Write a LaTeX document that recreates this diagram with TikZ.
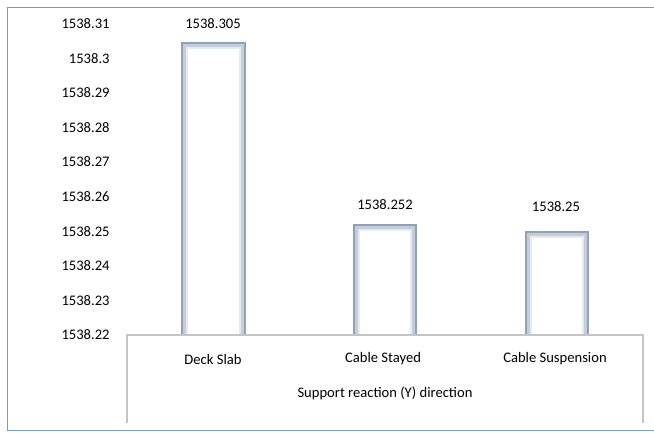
\documentclass[tikz,border=0pt]{standalone}
\usepackage{fontspec}
\setmainfont{Carlito}
\definecolor{frameblue}{RGB}{118,150,212}
\definecolor{axisgray}{RGB}{196,196,196}
\definecolor{baredge}{RGB}{146,162,182}
\definecolor{barglow}{RGB}{196,206,218}
\definecolor{barhaze}{RGB}{230,235,241}

\begin{document}
\begin{tikzpicture}[x=1pt, y=-1pt, thick,
    lbl/.style = {font=\fontsize{14.6}{16}\selectfont, inner sep=0pt},
    bar/.style = {draw=baredge, line width=2.6pt, fill=white},
    glow/.style = {draw=barglow, line width=2.4pt},
    haze/.style = {draw=barhaze, line width=2.4pt}]
        \useasboundingbox (0,0) rectangle (654,432);
        % outer frame, open on the right
        \draw[frameblue, line width=1.6pt] (664,7.5) -- (7.5,7.5) -- (7.5,430.5) -- (664,430.5);
        % value axis labels
        \foreach \v [count=\i from 0] in {1538.22,1538.23,1538.24,1538.25,1538.26,1538.27,1538.28,1538.29,1538.3,1538.31}
            \node[lbl, anchor=east] (tick\i) at (110,335-34.6*\i) {\v};
        % bars, each with a soft inner shade
        \foreach \xl/\xr/\yt in {182/245/43, 354/416/225, 526/588/232} {
            \draw[bar] (\xl,\yt) rectangle (\xr,335);
            \draw[glow] (\xl+2.5,\yt+2.5) rectangle (\xr-2.5,335);
            \draw[haze] (\xl+4.8,\yt+4.8) rectangle (\xr-4.8,335);
        }
        % category box
        \draw[axisgray, line width=1.6pt] (127,423) -- (127,335) -- (643,335) -- (643,423);
        % value labels
        \node[lbl] (v1) at (213,24) {1538.305};
        \node[lbl] (v2) at (385,205) {1538.252};
        \node[lbl] (v3) at (556,207) {1538.25};
        % categories
        \node[lbl] (c1) at (213,359) {Deck Slab};
        \node[lbl] (c2) at (383,359) {Cable Stayed};
        \node[lbl] (c3) at (555,359) {Cable Suspension};
        \node[lbl] (xt) at (385,393) {Support reaction (Y) direction};
\end{tikzpicture}
\end{document}
